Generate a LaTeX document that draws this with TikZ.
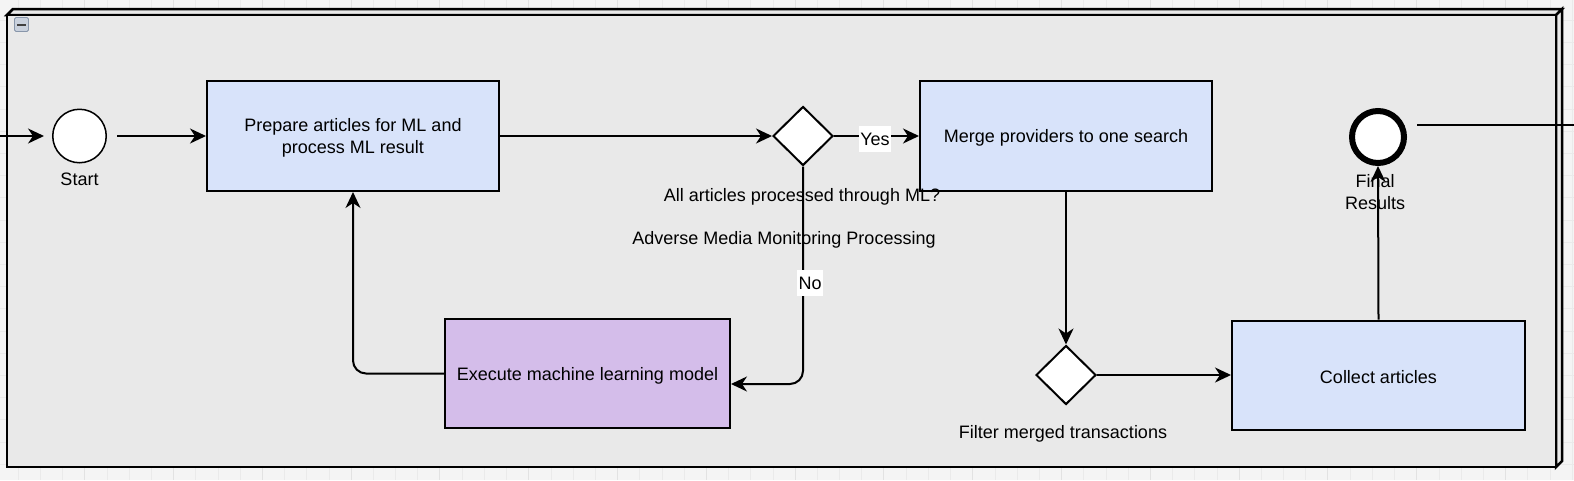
\documentclass[tikz,border=0pt]{standalone}
\usepackage{fontspec}
\setmainfont{Liberation Sans}
\usetikzlibrary{arrows.meta,shapes.geometric,calc}
\definecolor{bgc}{HTML}{F4F4F4}
\definecolor{gridc}{HTML}{EAEAEA}
\definecolor{gridmaj}{HTML}{E2E2E2}
\definecolor{contc}{HTML}{E9E9E9}
\definecolor{boxblue}{HTML}{D8E3FA}
\definecolor{boxpurple}{HTML}{D4BDEA}
\definecolor{iconfill}{HTML}{C9D1DD}
\definecolor{iconline}{HTML}{8896AA}
\newcommand{\fsz}{\fontsize{18}{22}\selectfont}
\begin{document}
\begin{tikzpicture}[x=1pt,y=-1pt,
  every node/.style={font=\fsz, text=black},
  task/.style={draw=black, line width=2pt, fill=boxblue, inner sep=0pt},
  gateway/.style={diamond, draw=black, line width=2pt, fill=white, inner sep=0pt, minimum width=60pt, minimum height=59pt},
  conn/.style={draw=black, line width=2pt},
  arr/.style={conn, -{Stealth[length=16pt,width=15pt,inset=5pt]}},
  lab/.style={fill=white, inner xsep=1.5pt, inner ysep=0pt, minimum height=26pt},
  plain/.style={inner sep=0pt, align=center}
]
% background with grid
\useasboundingbox (0,0) rectangle (1574,480);
\fill[bgc] (0,0) rectangle (1574,480);
\foreach \i in {0,...,70} {
  \pgfmathsetmacro{\xx}{18+22.2*\i}
  \pgfmathtruncatemacro{\mm}{mod(\i,4)}
  \ifnum\mm=3
    \draw[gridmaj, line width=0.8pt] (\xx,0) -- (\xx,480);
  \else
    \draw[gridc, line width=0.6pt] (\xx,0) -- (\xx,480);
  \fi
}
\foreach \j in {0,...,21} {
  \pgfmathsetmacro{\yy}{20+22.2*\j}
  \draw[gridc, line width=0.6pt] (0,\yy) -- (1574,\yy);
}
% container (3D box)
\filldraw[fill=contc, draw=black, line width=2.5pt, line join=miter]
  (7,15) -- (13,9) -- (1562,9) -- (1556,15) -- cycle;
\filldraw[fill=contc, draw=black, line width=2.5pt, line join=miter]
  (1556,15) -- (1562,9) -- (1562,461) -- (1556,467) -- cycle;
\filldraw[fill=contc, draw=black, line width=2.5pt, line join=miter]
  (7,15) rectangle (1556,467);
% collapse icon
\node[draw=iconline, fill=iconfill, line width=0.8pt, rounded corners=1.5pt, minimum size=14pt, inner sep=0pt] (collapse) at (21.5,24.5) {};
\draw[black!75, line width=2pt] ($(collapse.center)+(-4.5,0)$) -- ($(collapse.center)+(4.5,0)$);

% nodes
\node[circle, draw=black, line width=1.5pt, fill=white, minimum size=53.5pt, inner sep=0pt] (start) at (79.5,136) {};
\node[plain] (startlab) at (79.5,179) {Start};
\node[task, minimum width=292pt, minimum height=110pt] (box1) at (353,136) {};
\node[plain] (box1txt) at ($(box1.center)+(0,2)$) {Prepare articles for ML and\\process ML result};
\node[gateway] (d1) at (803,136) {};
\node[task, minimum width=292pt, minimum height=110pt] (box2) at (1066,136) {};
\node[plain] (box2txt) at ($(box2.center)+(0,2)$) {Merge providers to one search};
\node[plain] (d1lab) at (802,196.5) {All articles processed through ML?};
\node[plain] (poolname) at (784,239.5) {Adverse Media Monitoring Processing};
\node[task, fill=boxpurple, minimum width=285pt, minimum height=109pt] (box3) at (587.5,373.5) {};
\node[plain] (box3txt) at ($(box3.center)+(0,2)$) {Execute machine learning model};
\node[gateway] (d2) at (1066,375) {};
\node[plain] (d2lab) at (1063,434) {Filter merged transactions};
\node[task, minimum width=293pt, minimum height=109pt] (box4) at (1378.5,375) {};
\node[plain] (box4txt) at ($(box4.center)+(0,2)$) {Collect articles};
\node[circle, draw=black, line width=6pt, fill=white, minimum size=52pt, inner sep=0pt] (end) at (1378,137) {};
\node[plain] (endlab) at (1375,192) {Final\\Results};

\coordinate (inA) at (0,136);
\coordinate (outA) at (1417,125);
\coordinate (outB) at (1574,125);
\coordinate (box3in) at ($(box3.east)+(0,10.5)$);

% connectors
\draw[arr, shorten >=8pt] (inA) -- (start.west);
\draw[arr, shorten <=10pt] (start.east) -- (box1.west);
\draw[arr] (box1.east) -- (d1.west);
\draw[arr] (d1.east) -- (box2.west);
\node[lab] (yes) at (875,139) {Yes};
\draw[arr, rounded corners=13pt] (d1.south) |- (box3in);
\node[lab] (no) at (810,283) {No};
\draw[arr, rounded corners=13pt] (box3.west) -| (box1.south);
\draw[arr] (box2.south) -- (d2.north);
\draw[arr] (d2.east) -- (box4.west);
\draw[arr] (box4.north) -- (end.south);
\draw[conn] (outA) -- (outB);
\end{tikzpicture}
\end{document}
